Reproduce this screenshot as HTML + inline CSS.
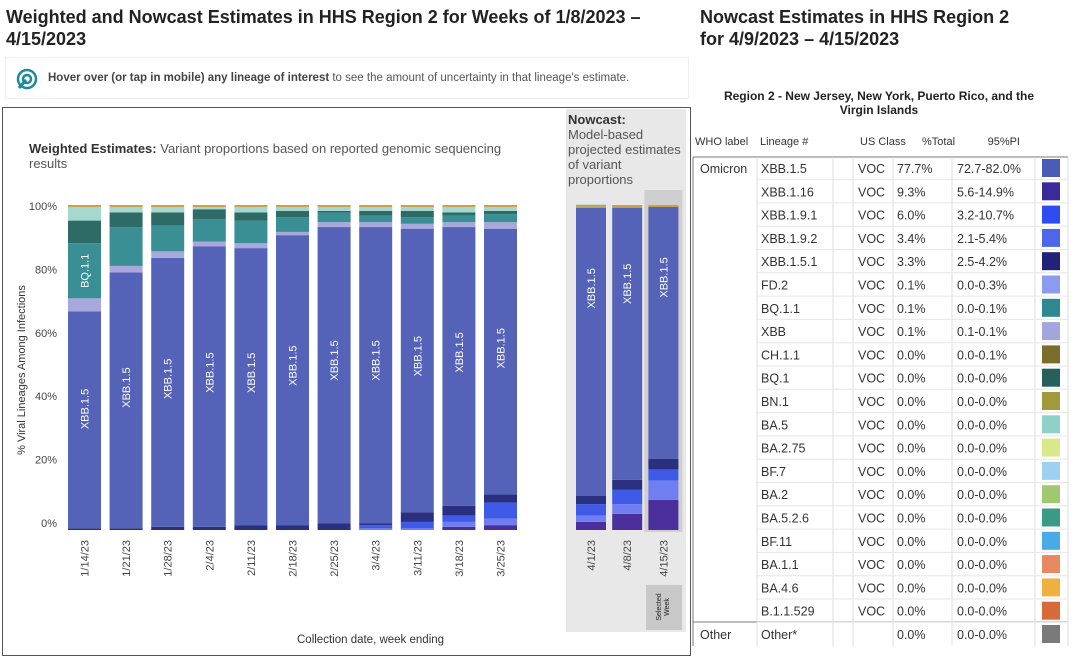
<!DOCTYPE html>
<html><head><meta charset="utf-8">
<style>
body{margin:0;width:1080px;height:660px;background:#fff;font-family:"Liberation Sans",sans-serif;position:relative;overflow:hidden;color:#222}
.abs{position:absolute}
</style></head>
<body>
<div class="abs" style="left:6px;top:6px;font-size:18px;font-weight:bold;line-height:22px;width:660px">Weighted and Nowcast Estimates in HHS Region 2 for Weeks of 1/8/2023 – 4/15/2023</div>
<div class="abs" style="left:700px;top:6px;font-size:18px;font-weight:bold;line-height:22px;width:320px">Nowcast Estimates in HHS Region 2 for 4/9/2023 – 4/15/2023</div>
<div class="abs" style="left:5px;top:57px;width:682px;height:40px;border:1px solid #eee;font-size:11.5px;color:#555">
 <svg class="abs" style="left:10px;top:10px" width="22" height="22" viewBox="0 0 22 22"><circle cx="11" cy="11" r="9" fill="none" stroke="#1d8a9a" stroke-width="2.5"/><circle cx="11" cy="11" r="4" fill="none" stroke="#1d8a9a" stroke-width="2.5"/><path d="M3 20 L10 12" stroke="#1d8a9a" stroke-width="3"/></svg>
 <span class="abs" style="left:42px;top:14px;white-space:nowrap"><b style="color:#444">Hover over (or tap in mobile) any lineage of interest</b> to see the amount of uncertainty in that lineage's estimate.</span>
</div>
<div class="abs" style="left:2px;top:107px;width:687px;height:547px;border:1px solid #555"></div>
<div class="abs" style="left:566px;top:109px;width:120px;height:523px;background:#e8e8e8"></div>
<div class="abs" style="left:568px;top:112px;font-size:13px;line-height:15px;color:#555;width:116px"><b style="color:#333">Nowcast:</b><br>Model-based projected estimates of variant proportions</div>
<div class="abs" style="left:29px;top:141px;font-size:13px;line-height:15px;color:#555;width:495px"><b style="color:#333">Weighted Estimates:</b> Variant proportions based on reported genomic sequencing results</div>
<div class="abs" style="left:646px;top:585px;width:36px;height:45px;background:#c8c8c8"><div style="position:absolute;left:18px;top:22px;transform:translate(-50%,-50%) rotate(-90deg);font-size:7px;line-height:8px;white-space:nowrap;text-align:center">Selected<br>Week</div></div>
<svg class="abs" style="left:0;top:0" width="1080" height="660" id="chart"></svg>
<div class="abs" style="left:22px;top:370px;transform:translate(-50%,-50%) rotate(-90deg);font-size:11px;white-space:nowrap;color:#333">% Viral Lineages Among Infections</div>
<div class="abs" style="left:297px;top:634px;font-size:11.5px;color:#333">Collection date, week ending</div>
<div class="abs" style="left:709px;top:89px;width:340px;text-align:center;font-size:12px;font-weight:bold;line-height:14px">Region 2 - New Jersey, New York, Puerto Rico, and the Virgin Islands</div>
<svg class="abs" style="left:0;top:0" width="1080" height="660" id="table"></svg>
<script>
const NS="http://www.w3.org/2000/svg";
const weeks=["1/14/23","1/21/23","1/28/23","2/4/23","2/11/23","2/18/23","2/25/23","3/4/23","3/11/23","3/18/23","3/25/23"];
const nowWeeks=["4/1/23","4/8/23","4/15/23"];
const lineageNames=["XBB.1.16","XBB.1.9.1","XBB.1.9.2","XBB.1.5.1","XBB.1.5","XBB","BQ.1.1","BQ.1","Other"];
const colors=["#4b2f9c","#6f7ff2","#3f5ae6","#2a2f80","#5462b8","#a8a8dc","#3a8f95","#2f6b66","#a6d8d0"];
const sXBB116=[0,0,0,0,0,0,0,0,0,1,1.5, 2.5,5,9.3];
const sXBB191=[0,0,0,0,0,0,0,0.5,0.5,1.5,2, 2,3,6];
const sXBB192=[0,0,0,0,0,0,0,1,2,2,5, 3.5,4.5,3.4];
const sXBB151=[0.5,0.5,1,1,1.5,1.5,2,0.5,3,3,2.5, 2.5,3,3.3];
const sXBB15=[67,79,83,86.5,85.5,89.5,91.5,91.5,87.5,86,82, 89,84,77.7];
const sXBB=[4,2,2,1.5,1.5,1,1.5,1.5,1.5,1.5,2, 0.5,0.3,0.1];
const sBQ11=[17,12,8,7,7,4.5,3,2,2,2,2.5, 0,0,0.1];
const sBQ1=[7,4.5,4,3,2.5,2,0.5,1.5,2,1,1, 0,0,0];
const sOther=[4.5,2,2,1,2,1.5,1.5,1.5,1.5,2,1.5, 0.5,0.2,0.1];
const series=[sXBB116,sXBB191,sXBB192,sXBB151,sXBB15,sXBB,sBQ11,sBQ1,sOther];
const yTicks=[0,20,40,60,80,100];
const svg=document.getElementById('chart');
function y(v){return 530-v*3.24;}
function x(i){return i<11?68+i*41.6:576+(i-11)*36.2;}
function bw(i){return i<11?33:30;}
function el(t,a,p){const e=document.createElementNS(NS,t);for(const k in a)e.setAttribute(k,a[k]);(p||svg).appendChild(e);return e;}
const hl=el('rect',{x:x(13)-4,y:190,width:bw(13)+8,height:y(0)-190+2,fill:'#cfcfcf'});


yTicks.forEach(v=>{
 const t=el('text',{x:57,y:523-v*3.17+4,'text-anchor':'end','font-size':11,fill:'#444'});t.textContent=v+'%';
 
 
});
const all=weeks.concat(nowWeeks);
all.forEach((w,i)=>{
 let cum=0;
 series.forEach((s,k)=>{
  const v=s[i];if(v<=0)return;
  const r=el('rect',{x:x(i),y:y(cum+v),width:bw(i),height:v*3.24,fill:colors[k]});
  
  
  cum+=v;
 });
 el('rect',{x:x(i),y:y(100)-1,width:bw(i),height:2,fill:'#c9a24a'});
 const cx=x(i)+bw(i)/2;
 const base=sXBB116[i]+sXBB191[i]+sXBB192[i]+sXBB151[i];
 const lab=el('text',{x:0,y:0,'font-size':11,fill:'#fff','text-anchor':'middle',transform:`translate(${cx+4},${i<11?y(base+sXBB15[i]*0.55):y(base+sXBB15[i]*0.72)}) rotate(-90)`});
 lab.textContent='XBB.1.5';
 
 
 const tl=el('text',{x:0,y:0,'font-size':11,fill:'#444','text-anchor':'end',transform:`translate(${cx+4},540) rotate(-90)`});
 tl.textContent=w;
 
 
});
const bq=el('text',{x:0,y:0,'font-size':11,fill:'#fff','text-anchor':'middle',transform:`translate(${x(0)+bw(0)/2+4},${y(sXBB151[0]+sXBB15[0]+sXBB[0]+sBQ11[0]/2)}) rotate(-90)`});
bq.textContent='BQ.1.1';



const T=document.getElementById('table');
const rows=[["XBB.1.5","77.7%","72.7-82.0%","#4a5bb8"],["XBB.1.16","9.3%","5.6-14.9%","#3b2a9c"],["XBB.1.9.1","6.0%","3.2-10.7%","#2f4cf0"],["XBB.1.9.2","3.4%","2.1-5.4%","#4e66ea"],["XBB.1.5.1","3.3%","2.5-4.2%","#1f2478"],["FD.2","0.1%","0.0-0.3%","#8b9cf0"],["BQ.1.1","0.1%","0.0-0.1%","#2f8790"],["XBB","0.1%","0.1-0.1%","#a3a6dc"],["CH.1.1","0.0%","0.0-0.1%","#7a6c2a"],["BQ.1","0.0%","0.0-0.0%","#25605c"],["BN.1","0.0%","0.0-0.0%","#a09a3a"],["BA.5","0.0%","0.0-0.0%","#8fd0c8"],["BA.2.75","0.0%","0.0-0.0%","#d8e88a"],["BF.7","0.0%","0.0-0.0%","#9ed0f0"],["BA.2","0.0%","0.0-0.0%","#a0c870"],["BA.5.2.6","0.0%","0.0-0.0%","#3a9a88"],["BF.11","0.0%","0.0-0.0%","#4aaae8"],["BA.1.1","0.0%","0.0-0.0%","#e88860"],["BA.4.6","0.0%","0.0-0.0%","#f0b040"],["B.1.1.529","0.0%","0.0-0.0%","#d86a3a"]];
function te(t,a){return el(t,a,T);}
function tx(s,xx,yy,extra){const t=te('text',Object.assign({x:xx,y:yy,'font-size':12.5,fill:'#333'},extra||{}));t.textContent=s;return t;}
[["WHO label",695],["Lineage #",760],["US Class",860],["%Total",922]].forEach(h=>{const t=tx(h[0],h[1],145,{'font-size':11});});
const ph=tx("95%PI",1020,145,{'font-size':11,'text-anchor':'end'});
te('line',{x1:693,y1:157,x2:1068,y2:157,stroke:'#777','stroke-width':1});
te('line',{x1:693,y1:157,x2:693,y2:646,stroke:'#777','stroke-width':1});
te('line',{x1:693,y1:622,x2:1068,y2:622,stroke:'#777','stroke-width':1});
[757,833,853,893,952,1035,1068].forEach(v=>te('line',{x1:v,y1:157,x2:v,y2:646,stroke:'#ddd','stroke-width':1}));
rows.forEach((r,i)=>{
 const yy=168+i*23.3;
 const g=te('g',{});
 
 
 te('line',{x1:757,y1:yy+11.6,x2:1068,y2:yy+11.6,stroke:'#e6e6e6'});
 tx(r[0],761,yy+5); tx("VOC",858,yy+5); tx(r[1],897,yy+5); tx(r[2],957,yy+5);
 te('rect',{x:1042,y:yy-9,width:18,height:18,fill:r[3]});
});
tx("Omicron",700,173);
tx("Other",700,639); tx("Other*",761,639); tx("0.0%",897,639); tx("0.0-0.0%",957,639);
te('rect',{x:1042,y:625,width:18,height:18,fill:'#7a7a7a'});
</script>
</body></html>
